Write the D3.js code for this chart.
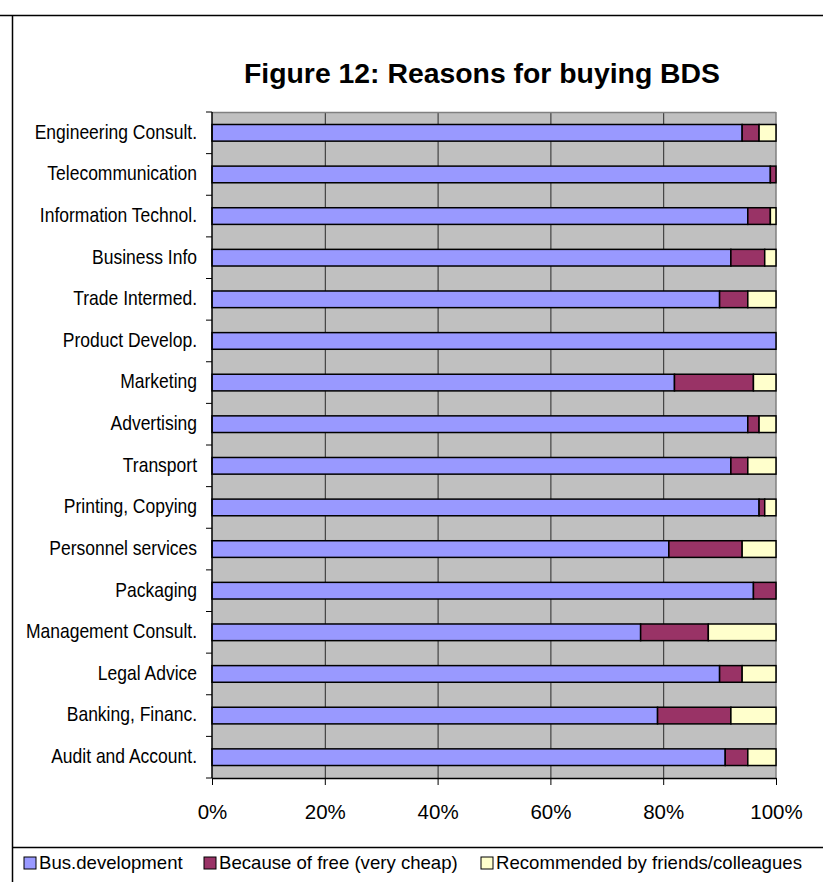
<!DOCTYPE html>
<html>
<head>
<meta charset="utf-8">
<script src="https://cdn.jsdelivr.net/npm/d3@7"></script>
<style>
  html, body { margin: 0; padding: 0; background: #fff; }
  svg { display: block; font-family: "Liberation Sans", Arial, sans-serif; }
</style>
</head>
<body>
<svg id="chart" width="823" height="882"></svg>
<script>
// Reasons for buying business development services, share of answers per sector (%)
const categories = [
  "Engineering Consult.", "Telecommunication", "Information Technol.", "Business Info",
  "Trade Intermed.", "Product Develop.", "Marketing", "Advertising", "Transport",
  "Printing, Copying", "Personnel services", "Packaging", "Management Consult.",
  "Legal Advice", "Banking, Financ.", "Audit and Account."
];
const busDevelopment = [94, 99, 95, 92, 90, 100, 82, 95, 92, 97, 81, 96, 76, 90, 79, 91];
const becauseOfFree  = [ 3,  1,  4,  6,  5,   0, 14,  2,  3,  1, 13,  4, 12,  4, 13,  4];
const recommended    = [ 3,  0,  1,  2,  5,   0,  4,  3,  5,  2,  6,  0, 12,  6,  8,  5];
const seriesNames = ["Bus.development", "Because of free (very cheap)", "Recommended by friends/colleagues"];
const tickValues = [0, 20, 40, 60, 80, 100];

const seriesKeys = ["busDev", "free", "recommended"];
const colors = { busDev: "#9999FF", free: "#993366", recommended: "#FFFFCC" };

const rows = categories.map((c, i) => ({
  category: c, busDev: busDevelopment[i], free: becauseOfFree[i], recommended: recommended[i]
}));

const svg = d3.select("#chart");
const plot = { left: 212, right: 776, top: 112, bottom: 778 };

const x = d3.scaleLinear().domain([0, 100]).range([plot.left, plot.right]);
const y = d3.scaleBand().domain(categories).range([plot.top, plot.bottom])
  .paddingInner(0.6).paddingOuter(0.3);

// frame lines around the chart object
svg.append("line").attr("x1", 0).attr("x2", 823).attr("y1", 15.5).attr("y2", 15.5)
  .attr("stroke", "#000").attr("stroke-width", 1.5);
svg.append("line").attr("x1", 12.5).attr("x2", 12.5).attr("y1", 15).attr("y2", 882)
  .attr("stroke", "#000").attr("stroke-width", 1.5);
svg.append("line").attr("x1", 12).attr("x2", 823).attr("y1", 847.5).attr("y2", 847.5)
  .attr("stroke", "#000").attr("stroke-width", 1.5);

// title
svg.append("text").attr("x", 482).attr("y", 83).attr("text-anchor", "middle")
  .attr("font-weight", "bold").attr("font-size", 27)
  .attr("textLength", 476).attr("lengthAdjust", "spacingAndGlyphs")
  .text("Figure 12: Reasons for buying BDS");

// plot background
svg.append("rect").attr("x", plot.left).attr("y", plot.top)
  .attr("width", plot.right - plot.left).attr("height", plot.bottom - plot.top)
  .attr("fill", "#C0C0C0");

// vertical gridlines
svg.append("g").selectAll("line").data(tickValues.slice(1, -1)).join("line")
  .attr("x1", d => x(d) + 0.5).attr("x2", d => x(d) + 0.5)
  .attr("y1", plot.top).attr("y2", plot.bottom)
  .attr("stroke", "#2a2a2a").attr("stroke-width", 1);

// plot border top / right
svg.append("line").attr("x1", plot.left).attr("x2", plot.right).attr("y1", plot.top + 0.5).attr("y2", plot.top + 0.5)
  .attr("stroke", "#808080").attr("stroke-width", 1.5);
svg.append("line").attr("x1", plot.right).attr("x2", plot.right).attr("y1", plot.top).attr("y2", plot.bottom)
  .attr("stroke", "#808080").attr("stroke-width", 1.5);

// stacked bars
const stacked = d3.stack().keys(seriesKeys)(rows);
svg.append("g").selectAll("g").data(stacked).join("g")
  .attr("fill", d => colors[d.key])
  .selectAll("rect").data(d => d.filter(s => s[1] - s[0] > 0)).join("rect")
  .attr("x", d => x(d[0]))
  .attr("width", d => x(d[1]) - x(d[0]))
  .attr("y", d => y(d.data.category))
  .attr("height", y.bandwidth())
  .attr("stroke", "#000").attr("stroke-width", 1.5);

// category axis with ticks on band boundaries
const boundaries = categories.map(c => y(c) + y.bandwidth() / 2 - y.step() / 2)
  .concat([plot.bottom]);
const yAxis = svg.append("g");
yAxis.append("line").attr("x1", plot.left).attr("x2", plot.left)
  .attr("y1", plot.top).attr("y2", plot.bottom).attr("stroke", "#000").attr("stroke-width", 1.5);
yAxis.selectAll("line.tick").data(boundaries).join("line").attr("class", "tick")
  .attr("x1", plot.left - 6).attr("x2", plot.left).attr("y1", d => d).attr("y2", d => d)
  .attr("stroke", "#000").attr("stroke-width", 1);
// labels drawn slightly taller than the base face
yAxis.selectAll("g.label").data(categories).join("g").attr("class", "label")
  .attr("transform", d => `translate(197,${y(d) + y.bandwidth() / 2 - 1}) scale(1,1.13)`)
  .append("text").attr("dy", "0.35em")
  .attr("text-anchor", "end").attr("font-size", 17.5).attr("fill", "#000").text(d => d);

// value axis
const xAxis = svg.append("g").attr("transform", `translate(0,${plot.bottom})`)
  .call(d3.axisBottom(x).tickValues(tickValues).tickFormat(d => d + "%").tickSize(7).tickPadding(19).tickSizeOuter(0));
xAxis.select(".domain").attr("stroke", "#000").attr("stroke-width", 1.5);
xAxis.selectAll(".tick line").attr("stroke", "#000");
xAxis.selectAll(".tick text").attr("font-size", 20.5).attr("font-family", "Liberation Sans, Arial, sans-serif").attr("fill", "#000");

// legend
const legendX = [24, 204, 481];
const legend = svg.append("g").selectAll("g").data(seriesKeys).join("g")
  .attr("transform", (d, i) => `translate(${legendX[i]},857)`);
legend.append("rect").attr("width", 12).attr("height", 12)
  .attr("fill", d => colors[d]).attr("stroke", "#000").attr("stroke-width", 1);
legend.append("text").attr("x", 15).attr("y", 12).attr("font-size", 18.6)
  .text((d, i) => seriesNames[i]);
</script>
</body>
</html>
